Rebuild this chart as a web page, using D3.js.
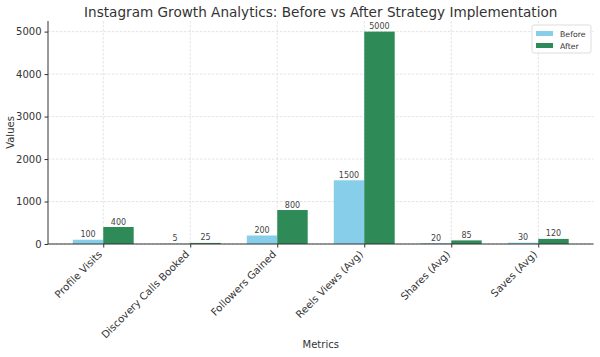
<!DOCTYPE html>
<html><head><meta charset="utf-8">
<script src="https://cdn.jsdelivr.net/npm/d3@7"></script>
<style>body{margin:0;background:#fff;} svg{display:block;font-family:"DejaVu Sans",sans-serif;}</style>
</head><body>
<script>
const categories = ["Profile Visits","Discovery Calls Booked","Followers Gained","Reels Views (Avg)","Shares (Avg)","Saves (Avg)"];
const before = [100,5,200,1500,20,30];
const after = [400,25,800,5000,85,120];
const yTicks = [0,1000,2000,3000,4000,5000];
const seriesNames = ["Before","After"];
const colors = ["#87CEEB","#2E8B57"];

const W=600,H=357;
const L=48,R=593.5,T=21,B=244;
const svg=d3.select("body").append("svg").attr("width",W).attr("height",H);
const barW=0.35;
const x=d3.scaleLinear().domain([-0.635,5.635]).range([L,R]);
const y=d3.scaleLinear().domain([0,5250]).range([B,T]);

// grid
const g=svg.append("g");
g.selectAll(".gy").data(yTicks).join("line").attr("x1",L).attr("x2",R)
 .attr("y1",d=>y(d)).attr("y2",d=>y(d)).attr("stroke","#d9d9d9").attr("stroke-width",0.7).attr("stroke-dasharray","2.5,1.5");
g.selectAll(".gx").data(categories).join("line").attr("y1",T).attr("y2",B)
 .attr("x1",(d,i)=>x(i)).attr("x2",(d,i)=>x(i)).attr("stroke","#d9d9d9").attr("stroke-width",0.7).attr("stroke-dasharray","2.5,1.5");

// bars
const series=[before,after];
series.forEach((vals,s)=>{
  const off = s===0 ? -barW : 0;
  svg.append("g").selectAll("rect").data(vals).join("rect")
    .attr("x",(d,i)=>x(i+off)).attr("width",x(barW)-x(0))
    .attr("y",d=>y(d)).attr("height",d=>y(0)-y(d)).attr("fill",colors[s]);
  svg.append("g").selectAll("text").data(vals).join("text")
    .attr("x",(d,i)=>x(i+off+barW/2)).attr("y",d=>y(d)-2.5)
    .attr("text-anchor","middle").attr("font-size",8).attr("fill","#444").text(d=>d);
});

// axes
const ya=svg.append("g").attr("transform",`translate(${L},0)`)
 .call(d3.axisLeft(y).tickValues(yTicks).tickSize(3.5).tickPadding(3).tickFormat(d3.format("d")));
ya.select(".domain").attr("d",`M0,${T}V${B}`).attr("stroke","#333").attr("stroke-width",1);
ya.selectAll(".tick line").attr("stroke","#333");
ya.selectAll(".tick text").attr("font-size",10).attr("fill","#333").attr("font-family","DejaVu Sans");

const xa=svg.append("g").attr("transform",`translate(0,${B})`)
 .call(d3.axisBottom(x).tickValues(d3.range(categories.length)).tickSize(3.5).tickFormat(i=>categories[i]));
xa.select(".domain").attr("d",`M${L},0H${R}`).attr("stroke","#333").attr("stroke-width",1);
xa.selectAll(".tick line").attr("stroke","#333");
xa.selectAll(".tick text").attr("font-size",10.2).attr("fill","#333").attr("font-family","DejaVu Sans")
 .attr("text-anchor","end").attr("dy",null).attr("y",null)
 .attr("transform","translate(-1,11) rotate(-45)");

// title & labels
svg.append("text").attr("x",(L+R)/2).attr("y",17).attr("text-anchor","middle")
 .attr("font-size",13.6).attr("fill","#333").text("Instagram Growth Analytics: Before vs After Strategy Implementation");
svg.append("text").attr("transform",`translate(14,${(T+B)/2}) rotate(-90)`).attr("text-anchor","middle")
 .attr("font-size",10).attr("fill","#333").text("Values");
svg.append("text").attr("x",(L+R)/2).attr("y",348).attr("text-anchor","middle")
 .attr("font-size",10).attr("fill","#333").text("Metrics");

// legend
const lg=svg.append("g").attr("transform","translate(532,25)");
lg.append("rect").attr("width",59).attr("height",28).attr("fill","#fff").attr("fill-opacity",0.8)
 .attr("stroke","#ddd").attr("rx",2);
seriesNames.forEach((n,i)=>{
  lg.append("rect").attr("x",4).attr("y",6+i*12).attr("width",17).attr("height",5).attr("fill",colors[i]);
  lg.append("text").attr("x",28).attr("y",11.5+i*12).attr("font-size",7.8).attr("fill","#333").text(n);
});
</script>
</body></html>
